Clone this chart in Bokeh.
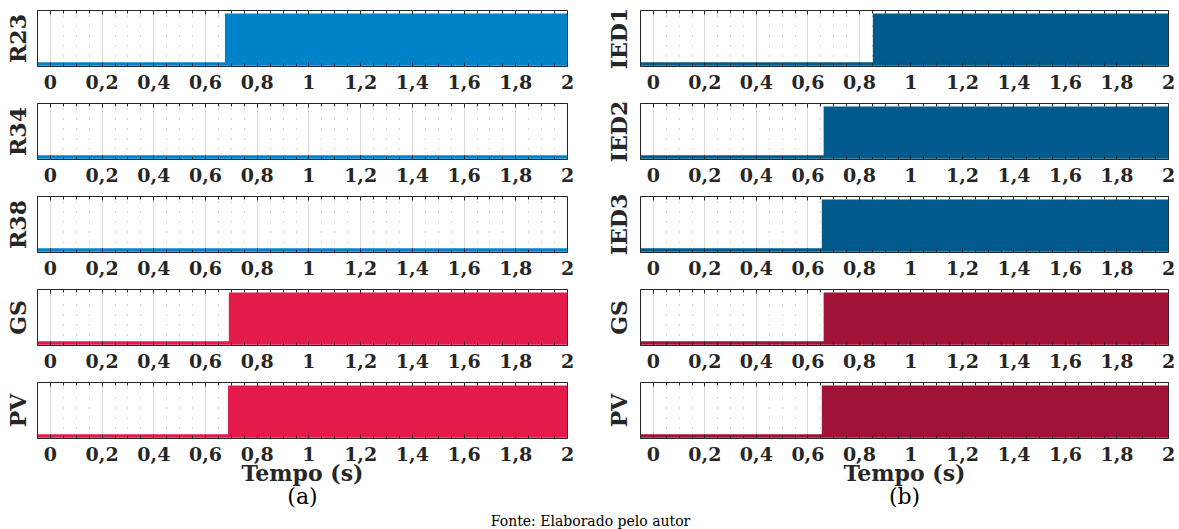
from bokeh.plotting import figure
from bokeh.models import LinearAxis, Range1d, FixedTicker, Label, Grid
from bokeh.layouts import column, row
from bokeh.embed import file_html
from bokeh.resources import INLINE

# ---------------- data ----------------
t_start, t_end = -0.05, 2.0
left_names = ["R23", "R34", "R38", "GS", "PV"]
left_trip = [0.675, None, None, 0.69, 0.687]          # trip instants (s); None = no trip
left_colors = ["#0082C8", "#0082C8", "#0082C8", "#E31B4B", "#E31B4B"]
right_names = ["IED1", "IED2", "IED3", "GS", "PV"]
right_trip = [0.852, 0.661, 0.654, 0.661, 0.654]
right_colors = ["#005A8C", "#005A8C", "#005A8C", "#A01236", "#A01236"]
tick_values = [0, 0.2, 0.4, 0.6, 0.8, 1, 1.2, 1.4, 1.6, 1.8, 2]
tick_labels = ["0", "0,2", "0,4", "0,6", "0,8", "1", "1,2", "1,4", "1,6", "1,8", "2"]
minor_values = [-0.05, 0.05, 0.1, 0.15, 0.25, 0.3, 0.35, 0.45, 0.5, 0.55, 0.65, 0.7, 0.75,
                0.85, 0.9, 0.95, 1.05, 1.1, 1.15, 1.25, 1.3, 1.35, 1.45, 1.5, 1.55,
                1.65, 1.7, 1.75, 1.85, 1.9, 1.95]
x_label = "Tempo (s)"
sub_labels = ["(a)", "(b)"]
source_note = "Fonte: Elaborado pelo autor"

FONT = "DejaVu Serif"
DARK = "#262626"
overrides = {v: l for v, l in zip(tick_values, tick_labels)}


def step_series(trip):
    if trip is None:
        return [t_start, t_end], [0, 0]
    return [t_start, trip, trip, t_end], [0, 0, 1, 1]


def panel(name, trip, color, width, border_left, border_right, first, last, sub, ylab_standoff):
    top = 10 if first else 7
    frame_h = 56
    bottom = 30 if not last else 73
    height = top + frame_h + bottom
    p = figure(width=width, height=height, x_range=Range1d(t_start, t_end),
               y_range=Range1d(-0.05, 1.06), toolbar_location=None,
               output_backend="svg", min_border_left=border_left,
               min_border_right=border_right, min_border_top=top,
               min_border_bottom=bottom, x_axis_type=None, y_axis_type=None)
    p.outline_line_color = DARK
    p.outline_line_width = 1
    p.background_fill_color = "white"
    p.border_fill_color = "white"

    ticker = FixedTicker(ticks=tick_values, minor_ticks=minor_values)
    xb = LinearAxis(ticker=ticker, major_label_overrides=overrides,
                    axis_line_color=None, major_tick_in=4, major_tick_out=0,
                    minor_tick_in=3, minor_tick_out=0,
                    major_tick_line_color=DARK, minor_tick_line_color=DARK,
                    major_label_text_font=FONT, major_label_text_font_style="bold",
                    major_label_text_font_size="19px", major_label_text_color=DARK,
                    major_label_standoff=8)
    if last:
        xb.axis_label = x_label
        xb.axis_label_text_font = FONT
        xb.axis_label_text_font_style = "bold"
        xb.axis_label_text_font_size = "22px"
        xb.axis_label_text_color = DARK
        xb.axis_label_standoff = -4
    p.add_layout(xb, "below")
    if last:
        xs = LinearAxis(ticker=FixedTicker(ticks=[]), axis_line_color=None,
                        major_tick_line_color=None, minor_tick_line_color=None,
                        major_label_text_color=None, major_label_standoff=0,
                        major_tick_in=0, major_tick_out=0,
                        axis_label=sub, axis_label_text_font=FONT,
                        axis_label_text_font_style="normal",
                        axis_label_text_font_size="22px", axis_label_text_color="black",
                        axis_label_standoff=-5)
        p.add_layout(xs, "below")

    xt = LinearAxis(ticker=ticker, axis_line_color=None, major_tick_in=4, major_tick_out=0,
                    minor_tick_in=3, minor_tick_out=0, major_tick_line_color=DARK,
                    minor_tick_line_color=DARK, major_label_text_color=None,
                    major_label_standoff=0)
    p.add_layout(xt, "above")

    yl = LinearAxis(ticker=FixedTicker(ticks=[]), axis_line_color=None,
                    major_tick_line_color=None, minor_tick_line_color=None,
                    major_tick_in=0, major_tick_out=0,
                    major_label_text_color=None, major_label_standoff=0,
                    axis_label=name, axis_label_text_font=FONT,
                    axis_label_text_font_style="bold", axis_label_text_font_size="22px",
                    axis_label_text_color=DARK, axis_label_standoff=ylab_standoff)
    p.add_layout(yl, "left")

    g = Grid(dimension=0, ticker=ticker, grid_line_color="#dadada", grid_line_width=1,
             minor_grid_line_color="#a8a8a8", minor_grid_line_dash="1 9",
             minor_grid_line_width=1)
    p.add_layout(g)

    xs_, ys_ = step_series(trip)
    p.varea(x=xs_, y1=[0] * len(xs_), y2=ys_, fill_color=color)
    p.line(x=xs_, y=[0] * len(xs_), line_color=color, line_width=3.5)
    return p


rows = []
for i in range(5):
    first = i == 0
    last = i == 4
    lf = panel(left_names[i], left_trip[i], left_colors[i], 598, 37, 31, first, last,
               sub_labels[0], 7)
    rf = panel(right_names[i], right_trip[i], right_colors[i], 581, 42, 11, first, last,
               sub_labels[1], 9)
    rows.append(row(lf, rf))

note = figure(width=1179, height=18, x_range=Range1d(0, 1), y_range=Range1d(0, 1),
              toolbar_location=None, output_backend="svg", x_axis_type=None,
              y_axis_type=None, min_border=0)
note.outline_line_color = None
note.grid.visible = False
note.add_layout(Label(x=590, y=17, x_units="screen", y_units="screen", text=source_note,
                      text_font=FONT, text_font_size="14px", text_align="center",
                      text_baseline="top", text_color="black"))
rows.append(note)

layout = column(*rows)
open("out.html", "w").write(file_html(layout, INLINE))
